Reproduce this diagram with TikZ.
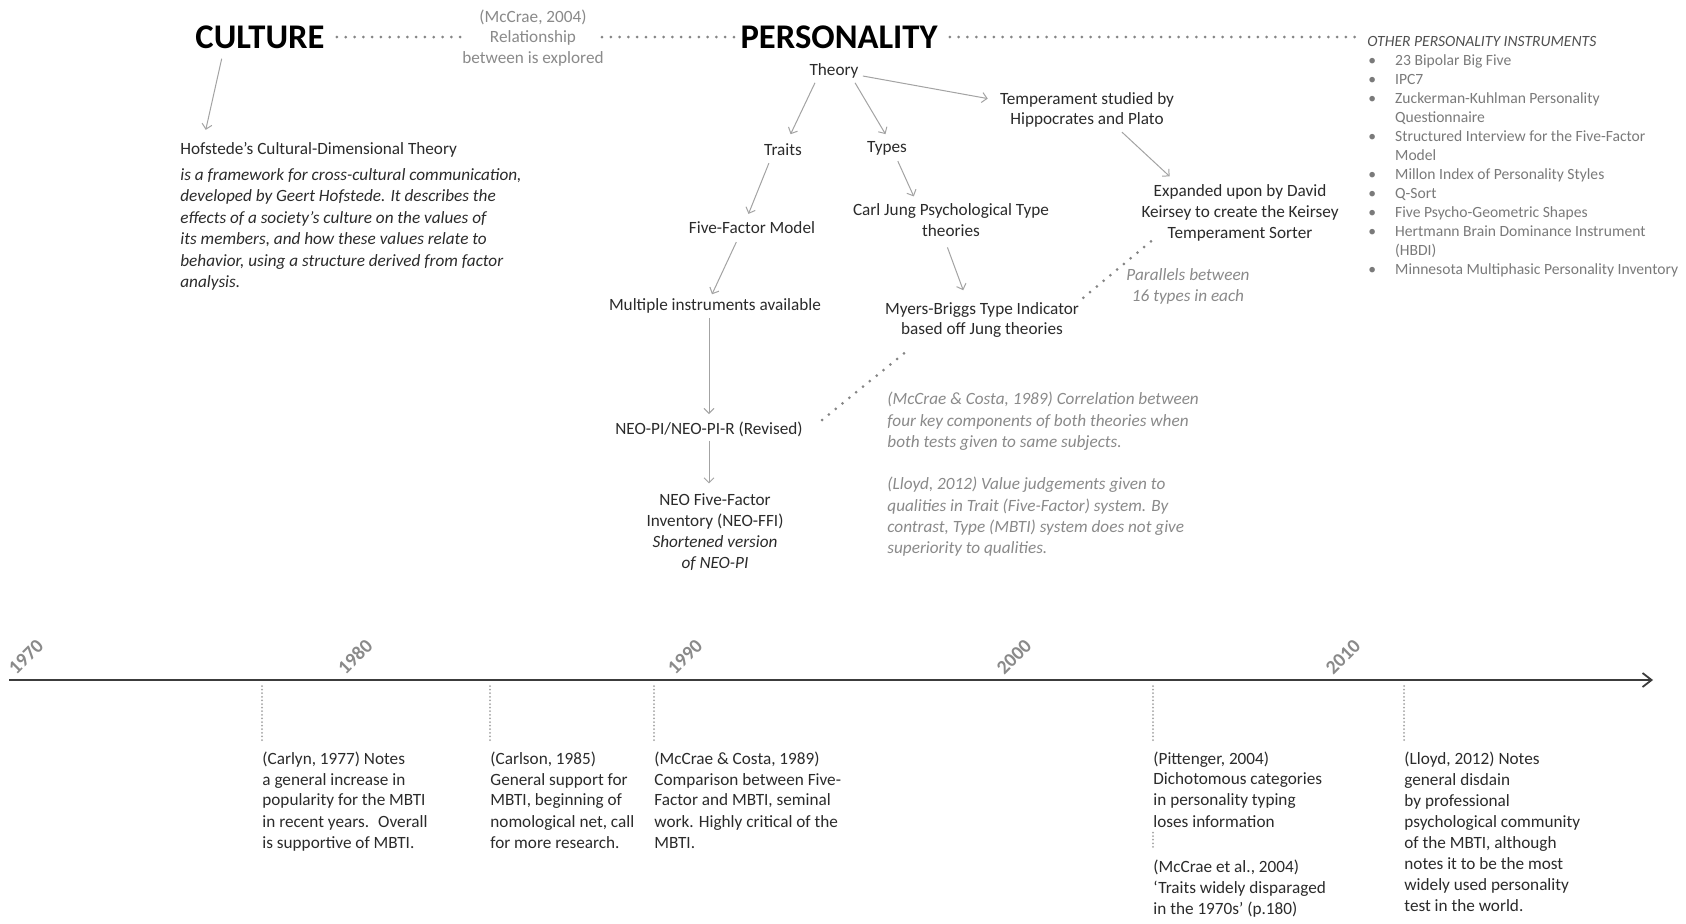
\documentclass[tikz,border=0pt]{standalone}
\usepackage{fontspec}
\setmainfont{Carlito}
\usetikzlibrary{arrows.meta}

\definecolor{inkgray}{HTML}{2B2B2B}
\definecolor{notegray}{HTML}{8A8A8A}
\definecolor{listgray}{HTML}{7A7A7A}
\definecolor{linegray}{HTML}{A3A3A3}
\definecolor{dotgray}{HTML}{858585}
\definecolor{axisgray}{HTML}{3C3C3C}

\begin{document}
\begin{tikzpicture}[x=0.5pt, y=-0.5pt,
                    every node/.style={font=\fontsize{8.6}{10.4}\selectfont, text=inkgray, inner sep=2pt},
                    heading/.style={font=\fontsize{17.3}{20}\selectfont\bfseries, text=black},
                    idea/.style={align=center},
                    note/.style={align=left, anchor=north west, inner sep=0pt, text=notegray,
                                 font=\fontsize{8.6}{10.6}\selectfont\itshape},
                    event/.style={align=left, anchor=north west, inner sep=0pt,
                                  font=\fontsize{8.6}{10.5}\selectfont},
                    year/.style={rotate=45, text=notegray, font=\fontsize{9.8}{11}\selectfont\bfseries},
                    link/.style={draw=linegray, line width=0.5pt, -{Straight Barb[length=2.5pt,width=5pt]}},
                    dots/.style={draw=dotgray, line width=1.5pt, line cap=round, dash pattern=on 0pt off 4.4pt},
                    drop/.style={draw=linegray, line width=1pt, line cap=round, dash pattern=on 0pt off 1.8pt},
                    axis/.style={draw=axisgray, line width=0.9pt, -{Straight Barb[length=4.5pt,width=7pt]}}]
    \path[use as bounding box, fill=white] (0,0) rectangle (1686,923);
    %\draw[help lines, step=50] (0,0) grid (1686,923);

    % top row
    \node[heading] (culture) at (260,37) {CULTURE};
    \node[idea, text=notegray, font=\fontsize{8.6}{10.3}\selectfont] (mccrae) at (533,38)
        {(McCrae, 2004)\\Relationship\\between is explored};
    \node[heading] (personality) at (839,37) {PERSONALITY};
    \node[anchor=west, text=axisgray!90, font=\fontsize{7.8}{9.5}\selectfont\itshape] (otherhead) at (1363,41)
        {OTHER PERSONALITY INSTRUMENTS};
    \node[anchor=north west, inner sep=0pt, text=listgray, font=\fontsize{7.8}{9.5}\selectfont] (instruments) at (1368,52) {%
        \begin{tabular}{@{}l@{\hspace{9.5pt}}l@{}}
        \textbullet & 23 Bipolar Big Five\\
        \textbullet & IPC7\\
        \textbullet & Zuckerman-Kuhlman Personality\\
                    & Questionnaire\\
        \textbullet & Structured Interview for the Five-Factor\\
                    & Model\\
        \textbullet & Millon Index of Personality Styles\\
        \textbullet & Q-Sort\\
        \textbullet & Five Psycho-Geometric Shapes\\
        \textbullet & Hertmann Brain Dominance Instrument\\
                    & (HBDI)\\
        \textbullet & Minnesota Multiphasic Personality Inventory
        \end{tabular}};

    % culture side
    \node[anchor=west] (hofstede) at (176,149.5) {Hofstede’s Cultural-Dimensional Theory};
    \node[anchor=north west, align=left, inner sep=0pt, font=\fontsize{8.6}{10.75}\selectfont\itshape] (hofdesc) at (180,168)
        {is a framework for cross-cultural communication,\\
         developed by Geert Hofstede. It describes the\\
         effects of a society’s culture on the values of\\
         its members, and how these values relate to\\
         behavior, using a structure derived from factor\\
         analysis.};

    % personality side
    \node (theory) at (834,71) {Theory};
    \node (traits) at (783,150) {Traits};
    \node (types) at (887,148) {Types};
    \node[idea] (temper) at (1087,110) {Temperament studied by\\Hippocrates and Plato};
    \node[idea] (keirsey) at (1240,213) {Expanded upon by David\\Keirsey to create the Keirsey\\Temperament Sorter};
    \node (fivefactor) at (752,228) {Five-Factor Model};
    \node[idea] (jung) at (951,220) {Carl Jung Psychological Type\\theories};
    \node (multiple) at (715,306) {Multiple instruments available};
    \node[idea] (mbti) at (982,320) {Myers-Briggs Type Indicator\\based off Jung theories};
    \node[idea, text=notegray, font=\fontsize{8.6}{10.4}\selectfont\itshape] (parallels) at (1188,286.5)
        {Parallels between\\16 types in each};
    \node (neopi) at (709,429) {NEO-PI/NEO-PI-R (Revised)};
    \node[idea] (neoffi) at (715,532) {NEO Five-Factor\\Inventory (NEO-FFI)\\\textit{Shortened version}\\\textit{of NEO-PI}};
    \node[note] (corrnote) at (887,392)
        {(McCrae \& Costa, 1989) Correlation between\\
         four key components of both theories when\\
         both tests given to same subjects.};
    \node[note] (valuenote) at (887,477)
        {(Lloyd, 2012) Value judgements given to\\
         qualities in Trait (Five-Factor) system. By\\
         contrast, Type (MBTI) system does not give\\
         superiority to qualities.};

    % dotted relations
    \draw[dots, shorten <=4pt] (culture.east) -- ([xshift=4pt]culture.east -| mccrae.west);
    \draw[dots] ([xshift=-3pt]culture.east -| mccrae.east) -- (personality.west);
    \draw[dots, shorten <=4pt] (personality.east) -- (personality.east -| otherhead.west);
    \draw[dots] (mbti.north east) -- ([xshift=8pt,yshift=3pt]keirsey.south west);
    \draw[dots] ([xshift=7.5pt,yshift=4.5pt]neopi.east) -- ([xshift=-36.5pt,yshift=-3.5pt]mbti.south);

    % Define transitions
    \path[every edge/.append style={link}]
     ([xshift=-18.5pt]culture.south) edge[shorten <=3pt, shorten >=4pt] ([xshift=14pt]hofstede.north west)
     ([xshift=-9.5pt]theory.south) edge[shorten >=3pt] ([xshift=2.5pt]traits.north)
     ([xshift=10.5pt]theory.south) edge[shorten >=1.5pt] (types.north)
     ([yshift=-2.5pt]theory.east) edge[shorten >=4pt] ([yshift=5pt]temper.west)
     ([xshift=17.5pt]temper.south) edge[shorten >=3pt] ([xshift=-33pt]keirsey.north)
     ([xshift=-6.5pt]traits.south) edge[shorten <=1.5pt, shorten >=2pt] ([xshift=-2.5pt]fivefactor.north)
     ([xshift=5pt]types.south) edge[shorten <=1pt, shorten >=1.5pt] ([xshift=-18pt]jung.north)
     ([xshift=-7pt]fivefactor.south) edge[shorten <=2pt] ([xshift=-1.5pt]multiple.north)
     ([xshift=-3pt]jung.south) edge[shorten <=3.5pt, shorten >=4pt] ([xshift=-8pt]mbti.north)
     (neopi.north |- multiple.south) edge[shorten >=1.5pt] (neopi.north)
     (neopi.south) edge[shorten >=3pt] (neopi.south |- neoffi.north);

    % timeline
    \coordinate (axisstart) at (9,680);
    \coordinate (axisend) at (1653,680);
    \draw[axis] (axisstart) -- (axisend);

    \node[year] (y1970) at (26,657) {1970};
    \node[year] (y1980) at (355,657) {1980};
    \node[year] (y1990) at (685,657) {1990};
    \node[year] (y2000) at (1014,657) {2000};
    \node[year] (y2010) at (1343,657) {2010};

    \coordinate (t1977) at (262,680);
    \coordinate (t1985) at (490,680);
    \coordinate (t1989) at (654,680);
    \coordinate (t2004) at (1153,680);
    \coordinate (t2012) at (1404,680);

    \node[event] (carlyn) at (262,751)
        {(Carlyn, 1977) Notes\\a general increase in\\popularity for the MBTI\\in recent years.~ Overall\\is supportive of MBTI.};
    \node[event] (carlson) at (490,751)
        {(Carlson, 1985)\\General support for\\MBTI, beginning of\\nomological net, call\\for more research.};
    \node[event] (mccraecosta) at (654,751)
        {(McCrae \& Costa, 1989)\\Comparison between Five-\\Factor and MBTI, seminal\\work. Highly critical of the\\MBTI.};
    \node[event] (pittenger) at (1153,751)
        {(Pittenger, 2004)\\Dichotomous categories\\in personality typing\\loses information};
    \node[event] (mccraeetal) at (1153,859.5)
        {(McCrae et al., 2004)\\‘Traits widely disparaged\\in the 1970s’ (p.180)};
    \node[event] (lloyd) at (1404,751)
        {(Lloyd, 2012) Notes\\general disdain\\by professional\\psychological community\\of the MBTI, although\\notes it to be the most\\widely used personality\\test in the world.};

    \draw[drop, shorten <=3pt, shorten >=4.5pt] (t1977) -- (carlyn.north west);
    \draw[drop, shorten <=3pt, shorten >=4.5pt] (t1985) -- (carlson.north west);
    \draw[drop, shorten <=3pt, shorten >=4.5pt] (t1989) -- (mccraecosta.north west);
    \draw[drop, shorten <=3pt, shorten >=4.5pt] (t2004) -- (pittenger.north west);
    \draw[drop, shorten <=2.5pt, shorten >=4.5pt] (pittenger.south west) -- (mccraeetal.north west);
    \draw[drop, shorten <=3pt, shorten >=4.5pt] (t2012) -- (lloyd.north west);
\end{tikzpicture}
\end{document}
